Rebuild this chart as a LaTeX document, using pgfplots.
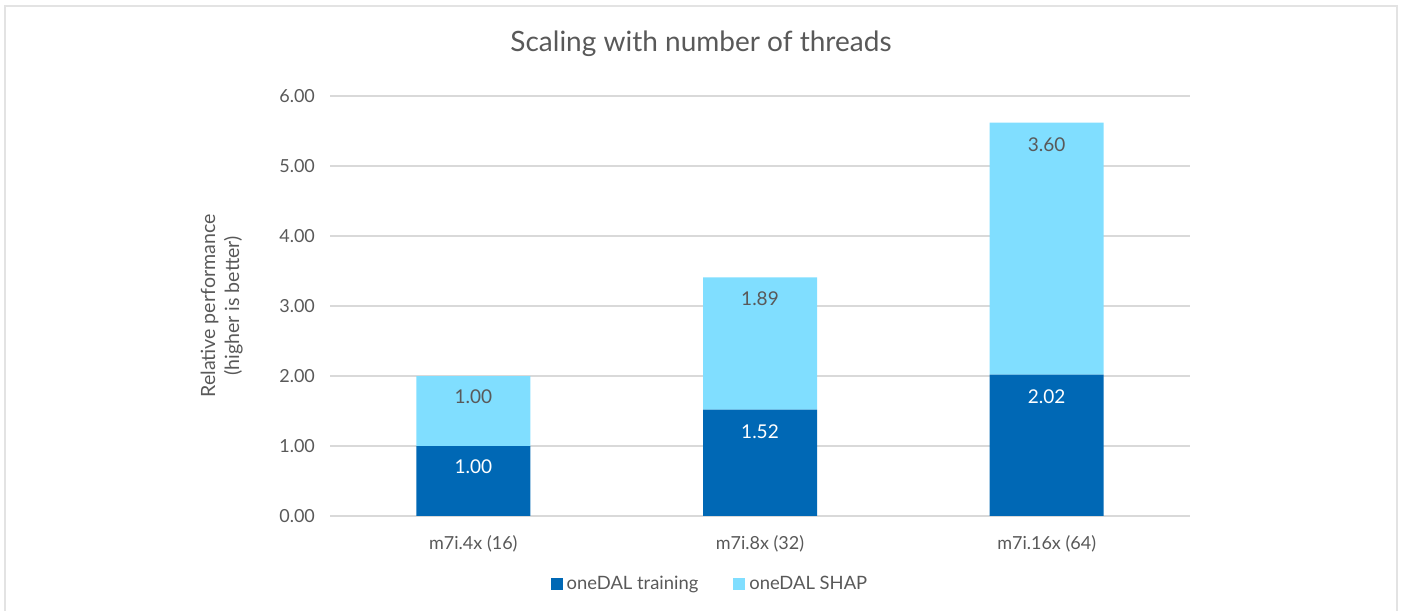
\documentclass[border=0pt]{standalone}
\usepackage{pgfplots}
\pgfplotsset{compat=1.18}
\usepackage{fontspec}
\setmainfont{Lato}
\definecolor{dblue}{HTML}{0068B5}
\definecolor{lblue}{HTML}{80DEFF}
\definecolor{txt}{HTML}{595959}
\definecolor{gridc}{HTML}{D9D9D9}
\definecolor{framec}{HTML}{E3E3E3}
\newcommand{\lab}{\fontsize{9}{11}\selectfont}
\newcommand{\vlab}{\fontsize{9.5}{11}\selectfont}
\begin{document}
\begin{tikzpicture}[x=1pt,y=1pt]
\begin{axis}[
  at={(0,0)}, anchor=south west,
  scale only axis, width=430pt, height=210pt,
  ybar stacked, bar width=57pt,
  xmin=-0.5, xmax=2.5, ymin=0, ymax=6,
  xtick={0,1,2},
  xticklabels={m7i.4x (16), m7i.8x (32), m7i.16x (64)},
  ytick={0,1,2,3,4,5,6},
  yticklabel={\pgfmathprintnumber[fixed,fixed zerofill,precision=2,assume math mode=true]{\tick}},
  ymajorgrids, major grid style={gridc, line width=0.6pt},
  axis line style={draw=none}, tick style={draw=none},
  ticklabel style={font=\lab, text=txt},
  yticklabel style={xshift=-4pt},
  xticklabel style={yshift=-6pt},
  ylabel={Relative performance\\(higher is better)},
  ylabel style={font=\fontsize{9.8}{12}\selectfont, text=txt, align=center, at={(axis description cs:-0.126,0.5)}, anchor=center},
  legend columns=2,
  legend style={at={(axis description cs:0.443,-0.162)}, anchor=center, draw=none, fill=none, font=\fontsize{9.2}{11}\selectfont, text=txt,
    /tikz/every even column/.append style={column sep=15.5pt}},
  legend image code/.code={\fill[#1] (2.5pt,-3pt) rectangle (8.5pt,3pt);},
]
\addplot[fill=dblue, draw=none] coordinates {(0,1.00) (1,1.52) (2,2.02)};
\addlegendentry{oneDAL training}
\addplot[fill=lblue, draw=none] coordinates {(0,1.00) (1,1.89) (2,3.60)};
\addlegendentry{oneDAL SHAP}
\coordinate (a1) at (axis cs:0,0.70);
\coordinate (a2) at (axis cs:1,1.21);
\coordinate (a3) at (axis cs:2,1.71);
\coordinate (b1) at (axis cs:0,1.70);
\coordinate (b2) at (axis cs:1,3.11);
\coordinate (b3) at (axis cs:2,5.31);
\end{axis}
\node[font=\vlab, text=white] at (a1) {1.00};
\node[font=\vlab, text=white] at (a2) {1.52};
\node[font=\vlab, text=white] at (a3) {2.02};
\node[font=\vlab, text=txt] at (b1) {1.00};
\node[font=\vlab, text=txt] at (b2) {1.89};
\node[font=\vlab, text=txt] at (b3) {3.60};
\node[font=\fontsize{14}{16}\selectfont, text=txt] at (185.5,236) {Scaling with number of threads};
\draw[framec, line width=0.8pt] (-162.5,-60) -- (-162.5,255) -- (533.5,255) -- (533.5,-60);
\pgfresetboundingbox
\useasboundingbox (-165,-47) rectangle (535.5,258);
\end{tikzpicture}
\end{document}
